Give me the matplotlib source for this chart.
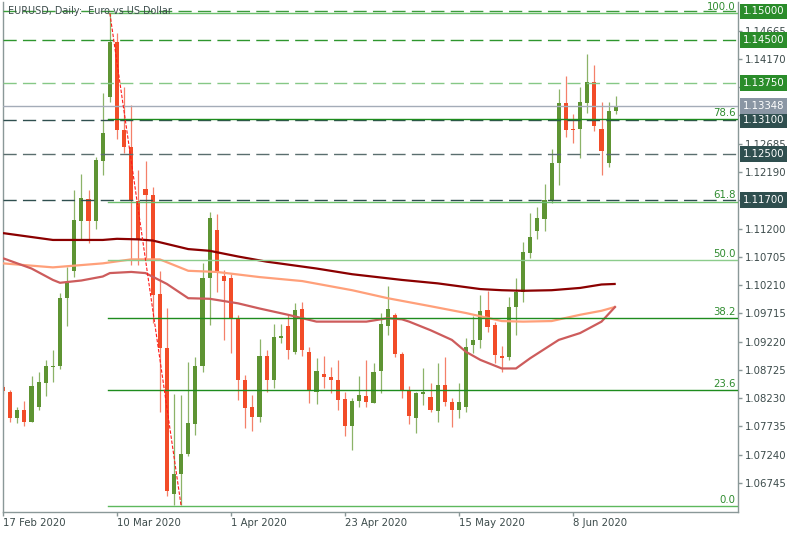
import matplotlib
matplotlib.use("Agg")
import matplotlib.pyplot as plt
import numpy as np

# EURUSD daily candles, bar 0 = 17 Feb 2020 ... bar 86 = 16 Jun 2020
opens = [1.0842, 1.0833, 1.0789, 1.0802, 1.0781, 1.0808, 1.0850, 1.0878, 1.0879, 1.0999,
         1.1045, 1.1134, 1.1171, 1.1134, 1.1239, 1.1350, 1.1447, 1.1292, 1.1262, 1.1169,
         1.1190, 1.1179, 1.1005, 1.0911, 1.0656, 1.0691, 1.0725, 1.0778, 1.0879, 1.1033,
         1.1118, 1.1037, 1.1033, 1.0963, 1.0855, 1.0808, 1.0790, 1.0896, 1.0854, 1.0929,
         1.0949, 1.0904, 1.0979, 1.0904, 1.0834, 1.0865, 1.0860, 1.0855, 1.0821, 1.0774,
         1.0818, 1.0827, 1.0815, 1.0871, 1.0949, 1.0968, 1.0901, 1.0836, 1.0789, 1.0830,
         1.0825, 1.0801, 1.0846, 1.0817, 1.0802, 1.0808, 1.0916, 1.0924, 1.0977, 1.0951,
         1.0896, 1.0895, 1.0983, 1.1009, 1.1078, 1.1116, 1.1136, 1.1170, 1.1234, 1.1339,
         1.1294, 1.1294, 1.1339, 1.1376, 1.1295, 1.1235, 1.1326]
highs = [1.0846, 1.0838, 1.0808, 1.0818, 1.0862, 1.0869, 1.0889, 1.0907, 1.1007, 1.1053,
         1.1187, 1.1215, 1.1187, 1.1246, 1.1357, 1.1497, 1.1462, 1.1368, 1.1336, 1.1222,
         1.1239, 1.1193, 1.1045, 1.0980, 1.0830, 1.0829, 1.0887, 1.0895, 1.1060, 1.1149,
         1.1145, 1.1047, 1.1040, 1.0969, 1.0864, 1.0829, 1.0926, 1.0907, 1.0953, 1.0953,
         1.0971, 1.0989, 1.0992, 1.0913, 1.0893, 1.0897, 1.0878, 1.0890, 1.0834, 1.0823,
         1.0861, 1.0890, 1.0884, 1.0972, 1.1019, 1.0972, 1.0904, 1.0844, 1.0834, 1.0875,
         1.0849, 1.0885, 1.0895, 1.0823, 1.0849, 1.0928, 1.0966, 1.1004, 1.1010, 1.0957,
         1.0914, 1.1000, 1.1033, 1.1097, 1.1148, 1.1157, 1.1198, 1.1260, 1.1364, 1.1387,
         1.1320, 1.1367, 1.1425, 1.1406, 1.1342, 1.1342, 1.1352]
lows = [1.0830, 1.0782, 1.0779, 1.0774, 1.0781, 1.0802, 1.0827, 1.0852, 1.0874, 1.0949,
        1.1036, 1.1100, 1.1094, 1.1120, 1.1214, 1.1342, 1.1276, 1.1252, 1.1056, 1.1056,
        1.1065, 1.0954, 1.0799, 1.0651, 1.0636, 1.0636, 1.0721, 1.0759, 1.0869, 1.0951,
        1.1009, 1.0925, 1.0902, 1.0820, 1.0770, 1.0766, 1.0782, 1.0833, 1.0840, 1.0919,
        1.0891, 1.0900, 1.0896, 1.0815, 1.0813, 1.0840, 1.0832, 1.0802, 1.0756, 1.0732,
        1.0808, 1.0808, 1.0814, 1.0832, 1.0934, 1.0895, 1.0823, 1.0778, 1.0762, 1.0811,
        1.0798, 1.0782, 1.0809, 1.0773, 1.0788, 1.0798, 1.0902, 1.0910, 1.0938, 1.0884,
        1.0869, 1.0890, 1.0934, 1.0992, 1.1068, 1.1101, 1.1116, 1.1164, 1.1196, 1.1280,
        1.1270, 1.1243, 1.1323, 1.1290, 1.1214, 1.1227, 1.1321]
closes = [1.0835, 1.0788, 1.0802, 1.0782, 1.0844, 1.0852, 1.0879, 1.0880, 1.0999, 1.1025,
          1.1135, 1.1173, 1.1134, 1.1240, 1.1288, 1.1447, 1.1292, 1.1262, 1.1170, 1.1100,
          1.1179, 1.1004, 1.0911, 1.0660, 1.0691, 1.0725, 1.0780, 1.0879, 1.1033, 1.1138,
          1.1042, 1.1028, 1.0961, 1.0855, 1.0805, 1.0790, 1.0897, 1.0855, 1.0930, 1.0932,
          1.0908, 1.0977, 1.0908, 1.0837, 1.0871, 1.0860, 1.0855, 1.0820, 1.0774, 1.0818,
          1.0828, 1.0816, 1.0869, 1.0953, 1.0979, 1.0900, 1.0838, 1.0792, 1.0832, 1.0834,
          1.0803, 1.0846, 1.0816, 1.0802, 1.0817, 1.0913, 1.0924, 1.0976, 1.0947, 1.0899,
          1.0893, 1.0983, 1.1009, 1.1079, 1.1106, 1.1138, 1.1170, 1.1235, 1.1339, 1.1292,
          1.1292, 1.1342, 1.1376, 1.1299, 1.1256, 1.1326, 1.13348]

# moving averages (bar index, price)
ma_slow_idx = [0, 7, 14, 16, 19, 21, 26, 29, 33, 37, 44, 49, 56, 61, 67, 70, 73, 77, 81, 84, 86]
ma_slow = [1.1112, 1.1100, 1.1100, 1.1102, 1.1101, 1.1099, 1.1084, 1.1081, 1.1071, 1.1062, 1.1050,
           1.1040, 1.1030, 1.1024, 1.1014, 1.1012, 1.1011, 1.1012, 1.1016, 1.1022, 1.1023]
ma_mid_idx = [0, 7, 14, 18, 22, 26, 30, 36, 42, 49, 54, 60, 65, 70, 73, 77, 81, 84, 86]
ma_mid = [1.1059, 1.1052, 1.1059, 1.1066, 1.1066, 1.1046, 1.1044, 1.1035, 1.1028, 1.1012,
          1.0998, 1.0984, 1.0972, 1.0958, 1.0957, 1.0958, 1.0969, 1.0976, 1.0983]
ma_fast_idx = [0, 4, 7, 8, 11, 14, 15, 18, 20, 23, 26, 29, 33, 36, 40, 44, 49, 51, 54, 56, 57,
               60, 63, 65, 67, 70, 72, 74, 78, 81, 84, 86]
ma_fast = [1.1068, 1.1050, 1.1030, 1.1025, 1.1029, 1.1036, 1.1042, 1.1044, 1.1042, 1.1023, 1.0998,
           1.0997, 1.0989, 1.0980, 1.0969, 1.0957, 1.0957, 1.0957, 1.0963, 1.0961, 1.0957,
           1.0942, 1.0925, 1.0904, 1.0890, 1.0875, 1.0875, 1.0893, 1.0925, 1.0937, 1.0957, 1.0984]

# fibonacci retracement, high on 9 Mar (bar 15) to low on 23 Mar (bar 25)
fib_high, fib_low = 1.14968, 1.06342
fib_start, fib_end = 15, 25
fib_levels = [0.0, 23.6, 38.2, 50.0, 61.8, 78.6, 100.0]
fib_colors = ['#5db85d', '#1e8c1e', '#1e8c1e', '#8ccc8c', '#6cbf6c', '#1e8c1e', '#6cbf6c']

# horizontal levels: price, line colour, label box colour
levels = [1.15000, 1.14500, 1.13750, 1.13100, 1.12500, 1.11700]
level_colors = ['#3c9c3c', '#2e962e', '#86c886', '#2f4f4f', '#5a6e6e', '#2f4f4f']
level_boxes = ['#2a8c2a', '#2a8c2a', '#2a8c2a', '#2f4f4f', '#2f4f4f', '#2f4f4f']
bid = 1.13348

y_ticks = [1.06745, 1.07240, 1.07735, 1.08230, 1.08725, 1.09220, 1.09715, 1.10210, 1.10705,
           1.11200, 1.11695, 1.12190, 1.12685, 1.13180, 1.13675, 1.14170, 1.14665]
hidden_ticks = [1.11695, 1.13180]   # fully covered by the price boxes
x_ticks = [0, 16, 32, 48, 64, 80]
x_labels = ['17 Feb 2020', '10 Mar 2020', '1 Apr 2020', '23 Apr 2020', '15 May 2020', '8 Jun 2020']

txt = '#3c4b4b'
axc = '#8a9898'
fs = 7.3
plt.rcParams['lines.scale_dashes'] = False

fig = plt.figure(figsize=(8, 5.33), dpi=100)
ax = fig.add_axes([3 / 800, 21 / 533, 735 / 800, 510 / 533])
ax.set_xlim(0, 735 / 7.125)
ax.set_ylim(1.06237, 1.15166)

o = np.array(opens); h = np.array(highs); l = np.array(lows); c = np.array(closes)
x = np.arange(len(o))
up = c >= o
bull, bear = '#5e9433', '#f24c28'
ax.vlines(x[up], l[up], h[up], color='#8cb368', lw=0.9, zorder=2)
ax.vlines(x[~up], l[~up], h[~up], color='#f4806a', lw=0.9, zorder=2)
body_lo = np.minimum(o, c)
body_h = np.maximum(np.abs(c - o), 0.00018)
ax.bar(x[up], body_h[up], bottom=body_lo[up], width=0.58, color=bull, lw=0, zorder=2.2)
ax.bar(x[~up], body_h[~up], bottom=body_lo[~up], width=0.58, color=bear, lw=0, zorder=2.2)

# moving averages
ax.plot(ma_slow_idx, ma_slow, color='#8b0000', lw=1.6, zorder=3, solid_capstyle='butt')
ax.plot(ma_mid_idx, ma_mid, color='#ffa07a', lw=1.6, zorder=3, solid_capstyle='butt')
ax.plot(ma_fast_idx, ma_fast, color='#cd5c5c', lw=1.6, zorder=3, solid_capstyle='butt')

# level lines
for lv, col in zip(levels, level_colors):
    ax.axhline(lv, color=col, lw=1.0, dashes=(9.5, 4.5), zorder=3.2)
ax.axhline(bid, color='#a4acb8', lw=1.0, zorder=3.2)

# fibonacci
xmax = ax.get_xlim()[1]
for lvl, col in zip(fib_levels, fib_colors):
    price = fib_low + (fib_high - fib_low) * lvl / 100
    ax.plot([fib_start - 0.2, xmax], [price, price], color=col, lw=1.0, zorder=3.3)
    ax.text(0.997, price + 0.0002, '%.1f' % lvl, transform=ax.get_yaxis_transform(),
            ha='right', va='bottom', fontsize=fs, color='#2e8b2e', zorder=6)
ax.plot([fib_start, fib_end], [fib_high, fib_low], color='#ff1a1a', lw=0.8,
        ls=(0, (2.5, 1.2)), zorder=3.4)

# title
ax.text(5 / 735, 1.15000, 'EURUSD, Daily:  Euro vs US Dollar', transform=ax.get_yaxis_transform(),
        ha='left', va='center', fontsize=6.9, color=txt, zorder=6)

# axes styling
ax.spines['top'].set_visible(False)
for side in ['left', 'right', 'bottom']:
    ax.spines[side].set_color(axc)
    ax.spines[side].set_linewidth(1.0)
ax.yaxis.tick_right()
ax.set_yticks(y_ticks)
ax.set_yticklabels(['' if v in hidden_ticks else '%.5f' % v for v in y_ticks])
ax.set_xticks(x_ticks)
ax.set_xticklabels(x_labels, ha='left')
ax.tick_params(axis='y', direction='out', length=3, width=1, color=axc, labelcolor=txt,
               labelsize=fs, pad=2)
ax.tick_params(axis='x', direction='out', length=3, width=1, color=axc, labelcolor=txt,
               labelsize=fs, pad=1.5)

# price boxes on the scale
boxes = list(zip(levels, level_boxes)) + [(bid, '#8a96a4')]
for lv, col in boxes:
    ax.text(1.0062, lv, '%.5f' % lv, transform=ax.get_yaxis_transform(), ha='left', va='center',
            fontsize=fs, color='white', zorder=10, clip_on=False,
            bbox=dict(boxstyle='square,pad=0.28', fc=col, ec='none'))

fig.savefig('out.png', dpi=100, facecolor='white')
